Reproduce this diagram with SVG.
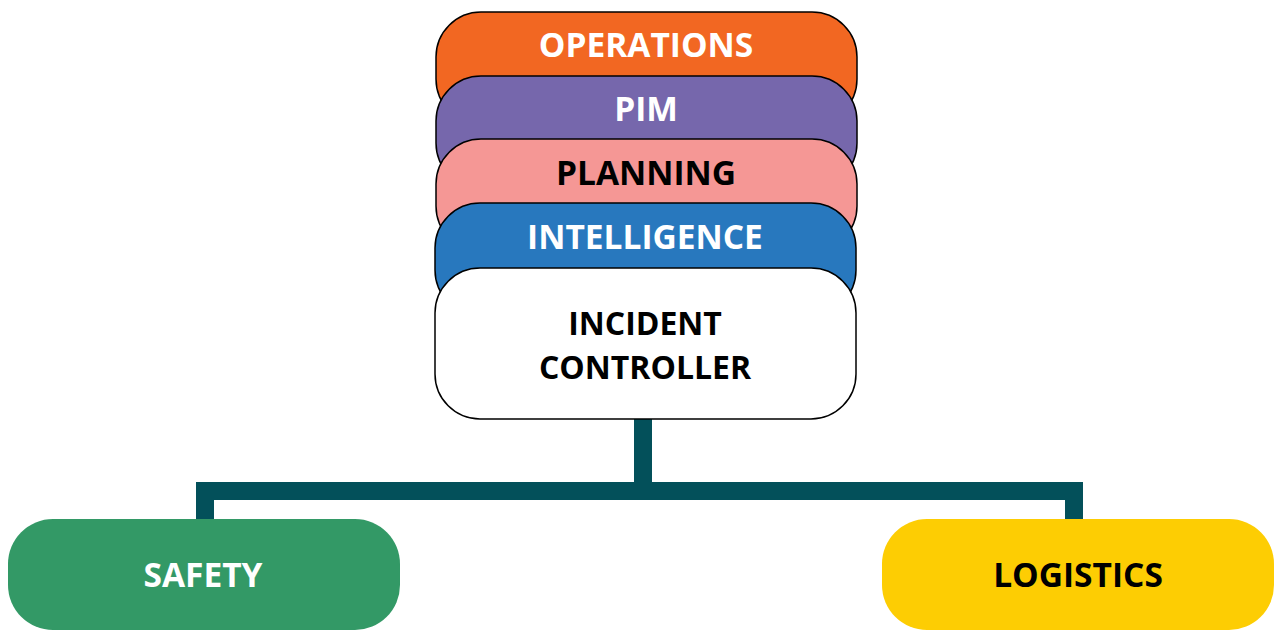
<svg xmlns="http://www.w3.org/2000/svg" width="1274" height="631" viewBox="0 0 1274 631">
<style>
.box{stroke:#000;stroke-width:1.5}
.t{font-family:"Open Sans","Noto Sans","Liberation Sans",sans-serif;font-weight:700;font-size:33.5px;text-anchor:middle;dominant-baseline:central}
.ic{font-size:32px}
.w{fill:#fff}
.k{fill:#000}
.conn{fill:none;stroke:#03505A;stroke-width:18}
</style>
<rect width="1274" height="631" fill="#fff"/>
<g id="connectors">
<path class="conn" d="M643 419 V491 M205 519 V491 H1074 V519"/>
</g>
<g id="operations">
<rect class="box" x="436" y="12" width="421" height="112" rx="45" fill="#F26722"/>
<text class="t w" x="646" y="44">OPERATIONS</text>
</g>
<g id="pim">
<rect class="box" x="436" y="76" width="421" height="112" rx="45" fill="#7667AC"/>
<text class="t w" x="646" y="108">PIM</text>
</g>
<g id="planning">
<rect class="box" x="436" y="139" width="421" height="112" rx="45" fill="#F59795"/>
<text class="t k" x="646" y="172">PLANNING</text>
</g>
<g id="intelligence">
<rect class="box" x="435" y="203" width="421" height="112" rx="45" fill="#2878BE"/>
<text class="t w" x="645" y="236">INTELLIGENCE</text>
</g>
<g id="incident-controller">
<rect class="box" x="435" y="268" width="421" height="151" rx="45" fill="#fff"/>
<text class="t k ic" x="645" y="322">INCIDENT</text>
<text class="t k ic" x="645" y="366">CONTROLLER</text>
</g>
<g id="safety">
<rect x="8" y="519" width="392" height="111" rx="45" fill="#339966"/>
<text class="t w" x="203" y="574">SAFETY</text>
</g>
<g id="logistics">
<rect x="882" y="519" width="392" height="111" rx="45" fill="#FDCD03"/>
<text class="t k" x="1078" y="574">LOGISTICS</text>
</g>
</svg>
